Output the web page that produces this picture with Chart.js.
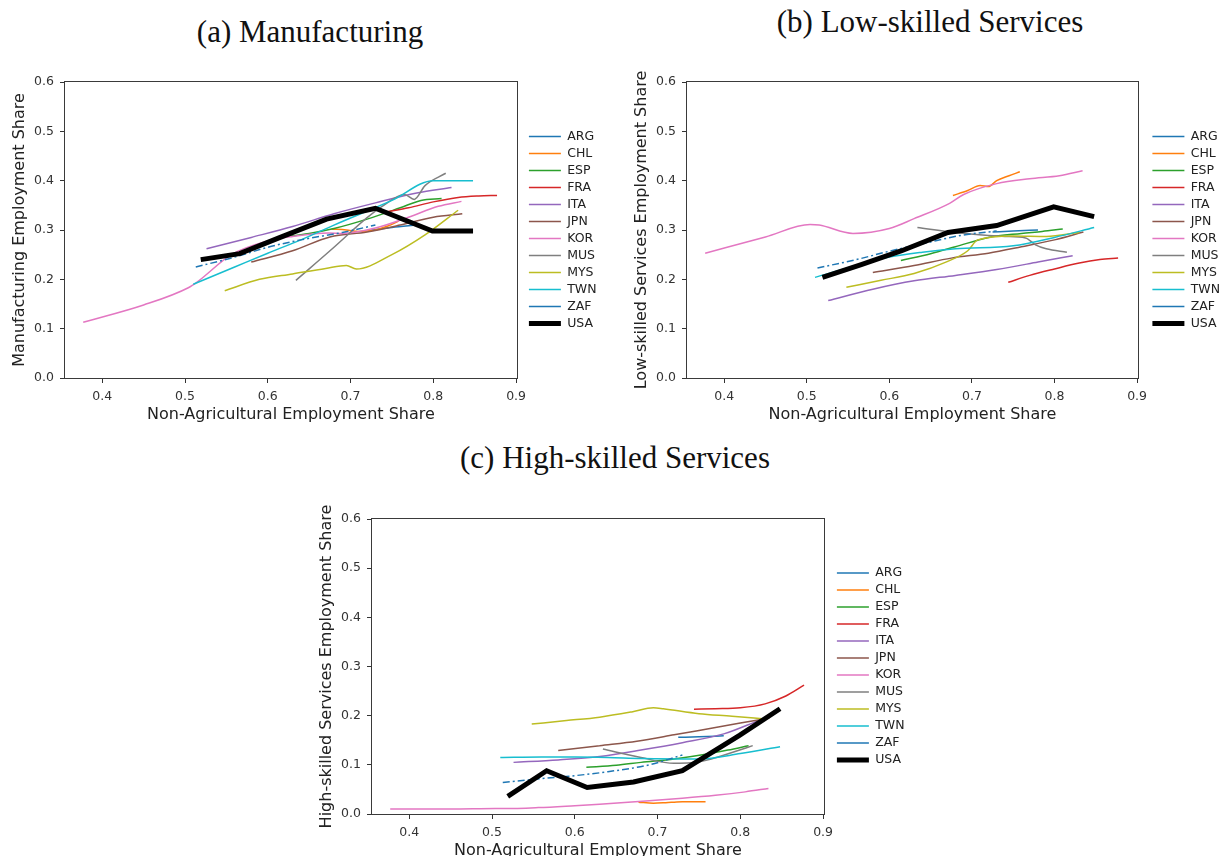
<!DOCTYPE html>
<html>
<head>
<meta charset="utf-8">
<script src="https://cdn.jsdelivr.net/npm/chart.js@4.4.1/dist/chart.umd.min.js"></script>
<style>
  html, body { margin: 0; padding: 0; background: #fff; }
  body { width: 1220px; height: 856px; overflow: hidden; position: relative; }
  canvas { position: absolute; }
  .panel-title {
    position: absolute; width: 500px; text-align: center; white-space: nowrap;
    font-family: "Liberation Serif", "DejaVu Serif", serif; font-size: 31px; line-height: 32px; color: #111;
  }
</style>
</head>
<body>
<div class="panel-title" style="left:60px; top:16px;">(a) Manufacturing</div>
<div class="panel-title" style="left:680px; top:6px;">(b) Low-skilled Services</div>
<div class="panel-title" style="left:365px; top:442px;">(c) High-skilled Services</div>
<canvas id="panelA" width="620" height="380" style="left:0px; top:60px;"></canvas>
<canvas id="panelB" width="598" height="380" style="left:622px; top:60px;"></canvas>
<canvas id="panelC" width="620" height="379" style="left:307px; top:497px;"></canvas>
<script>
// Countries, in legend order
const COUNTRIES = ['ARG', 'CHL', 'ESP', 'FRA', 'ITA', 'JPN', 'KOR', 'MUS', 'MYS', 'TWN', 'ZAF', 'USA'];

// Non-agricultural employment share (x) for each country's path
const xARG = [0.725, 0.75, 0.78];
const xCHL = [0.677, 0.695, 0.71, 0.72, 0.73, 0.745, 0.758];
const xESP = [0.614, 0.65, 0.68, 0.72, 0.76, 0.785, 0.81];
const xFRA = [0.744, 0.77, 0.80, 0.83, 0.855, 0.877];
const xITA = [0.526, 0.58, 0.63, 0.68, 0.73, 0.78, 0.822];
const xJPN = [0.58, 0.63, 0.675, 0.72, 0.76, 0.80, 0.835];
const xKOR = [0.377, 0.45, 0.504, 0.515, 0.556, 0.6, 0.63, 0.673, 0.69, 0.73, 0.77, 0.806, 0.834];
const xMUS = [0.634, 0.68, 0.72, 0.74, 0.765, 0.777, 0.79, 0.815];
const xMYS = [0.548, 0.59, 0.63, 0.67, 0.695, 0.707, 0.75, 0.79, 0.83];
const xTWN = [0.51, 0.56, 0.60, 0.64, 0.68, 0.75, 0.80, 0.848];
const xZAF = [0.513, 0.56, 0.60, 0.64, 0.69, 0.73];
const xUSA = [0.519, 0.566, 0.615, 0.671, 0.73, 0.799, 0.848];

// (a) Manufacturing employment share
const mfgARG = [0.30, 0.305, 0.31];
const mfgCHL = [0.302, 0.30, 0.297, 0.298, 0.30, 0.308, 0.318];
const mfgESP = [0.285, 0.293, 0.303, 0.322, 0.345, 0.36, 0.364];
const mfgFRA = [0.337, 0.345, 0.357, 0.366, 0.369, 0.37];
const mfgITA = [0.262, 0.285, 0.307, 0.333, 0.355, 0.375, 0.386];
const mfgJPN = [0.235, 0.258, 0.286, 0.296, 0.31, 0.326, 0.333];
const mfgKOR = [0.113, 0.148, 0.183, 0.195, 0.25, 0.278, 0.287, 0.294, 0.293, 0.304, 0.326, 0.348, 0.358];
const mfgMUS = [0.198, 0.265, 0.325, 0.35, 0.372, 0.362, 0.39, 0.415];
const mfgMYS = [0.177, 0.20, 0.211, 0.222, 0.228, 0.221, 0.25, 0.29, 0.34];
const mfgTWN = [0.19, 0.225, 0.253, 0.28, 0.31, 0.36, 0.40, 0.40];
const mfgZAF = [0.225, 0.245, 0.265, 0.28, 0.295, 0.31];
const mfgUSA = [0.240, 0.252, 0.285, 0.322, 0.344, 0.298, 0.298];

// (b) Low-skilled services employment share
const lowARG = [0.296, 0.298, 0.30];
const lowCHL = [0.37, 0.38, 0.39, 0.388, 0.40, 0.41, 0.418];
const lowESP = [0.238, 0.252, 0.266, 0.285, 0.293, 0.297, 0.302];
const lowFRA = [0.194, 0.208, 0.221, 0.233, 0.24, 0.243];
const lowITA = [0.157, 0.18, 0.197, 0.208, 0.22, 0.235, 0.248];
const lowJPN = [0.214, 0.228, 0.243, 0.253, 0.266, 0.28, 0.296];
const lowKOR = [0.253, 0.286, 0.311, 0.31, 0.293, 0.303, 0.323, 0.354, 0.372, 0.394, 0.404, 0.41, 0.42];
const lowMUS = [0.305, 0.295, 0.289, 0.287, 0.284, 0.27, 0.262, 0.255];
const lowMYS = [0.184, 0.198, 0.212, 0.236, 0.258, 0.28, 0.288, 0.287, 0.295];
const lowTWN = [0.204, 0.228, 0.245, 0.255, 0.262, 0.268, 0.285, 0.305];
const lowZAF = [0.223, 0.24, 0.257, 0.272, 0.29, 0.298];
const lowUSA = [0.204, 0.230, 0.258, 0.295, 0.309, 0.347, 0.327];

// (c) High-skilled services employment share
const highARG = [0.156, 0.157, 0.159];
const highCHL = [0.024, 0.022, 0.023, 0.024, 0.025, 0.025, 0.025];
const highESP = [0.095, 0.099, 0.105, 0.112, 0.122, 0.13, 0.139];
const highFRA = [0.213, 0.214, 0.216, 0.224, 0.24, 0.262];
const highITA = [0.105, 0.11, 0.117, 0.13, 0.145, 0.163, 0.19];
const highJPN = [0.129, 0.139, 0.148, 0.161, 0.173, 0.185, 0.195];
const highKOR = [0.010, 0.010, 0.011, 0.011, 0.013, 0.017, 0.02, 0.025, 0.027, 0.032, 0.038, 0.045, 0.052];
const highMUS = [0.132, 0.115, 0.103, 0.104, 0.112, 0.118, 0.125, 0.139];
const highMYS = [0.183, 0.19, 0.197, 0.208, 0.216, 0.214, 0.204, 0.199, 0.193];
const highTWN = [0.115, 0.116, 0.116, 0.115, 0.113, 0.112, 0.123, 0.137];
const highZAF = [0.064, 0.072, 0.078, 0.086, 0.10, 0.12];
const highUSA = [0.036, 0.088, 0.054, 0.065, 0.088, 0.16, 0.214];

// Axis ticks and ranges
const X_TICKS = [0.4, 0.5, 0.6, 0.7, 0.8, 0.9];
const Y_TICKS = [0.0, 0.1, 0.2, 0.3, 0.4, 0.5, 0.6];
const X_RANGE = [0.355, 0.901];
const Y_RANGE = [0.0, 0.6];

const X_TITLE = 'Non-Agricultural Employment Share';
const Y_TITLES = ['Manufacturing Employment Share', 'Low-skilled Services Employment Share', 'High-skilled Services Employment Share'];

const XS = [xARG, xCHL, xESP, xFRA, xITA, xJPN, xKOR, xMUS, xMYS, xTWN, xZAF, xUSA];
const PANEL_SERIES = [
  [mfgARG, mfgCHL, mfgESP, mfgFRA, mfgITA, mfgJPN, mfgKOR, mfgMUS, mfgMYS, mfgTWN, mfgZAF, mfgUSA],
  [lowARG, lowCHL, lowESP, lowFRA, lowITA, lowJPN, lowKOR, lowMUS, lowMYS, lowTWN, lowZAF, lowUSA],
  [highARG, highCHL, highESP, highFRA, highITA, highJPN, highKOR, highMUS, highMYS, highTWN, highZAF, highUSA]
];

// Styling
const LINE_COLORS = ['#1f77b4', '#ff7f0e', '#2ca02c', '#d62728', '#9467bd', '#8c564b',
                     '#e377c2', '#7f7f7f', '#bcbd22', '#17becf', '#1f77b4', '#000000'];
const FONT = '"DejaVu Sans", "Liberation Sans", sans-serif';
const INK = '#333333';

// Canvas layout for the three panels: right edge of the plot (canvas px) and gap to the legend
const PANEL_LAYOUT = [
  { id: 'panelA', plotRight: 517, gap: 7.5 },
  { id: 'panelB', plotRight: 516, gap: 10 },
  { id: 'panelC', plotRight: 517, gap: 8.5 }
];

// Box round the plotting area
const framePlugin = {
  id: 'frame',
  afterDatasetsDraw(chart) {
    const { ctx, chartArea: a } = chart;
    ctx.save();
    ctx.strokeStyle = '#3a3a3a';
    ctx.lineWidth = 1;
    ctx.strokeRect(Math.round(a.left) - 0.5, Math.round(a.top) - 0.5,
                   Math.round(a.right - a.left) + 1, Math.round(a.bottom - a.top) + 1);
    ctx.restore();
  }
};

// Vertical axis title, centred on the plotting area (may run past it)
const yLabelPlugin = {
  id: 'yLabel',
  afterDraw(chart, args, opts) {
    const { ctx, chartArea: a } = chart;
    ctx.save();
    ctx.translate(opts.x, (a.top + a.bottom) / 2);
    ctx.rotate(-Math.PI / 2);
    ctx.font = '16px ' + FONT;
    ctx.fillStyle = '#222';
    ctx.textAlign = 'center';
    ctx.textBaseline = 'middle';
    ctx.fillText(opts.text, 0, 0);
    ctx.restore();
  }
};

function buildDatasets(series) {
  return COUNTRIES.map((name, i) => {
    const isUSA = name === 'USA';
    return {
      label: name,
      data: XS[i].map((x, k) => ({ x: x, y: series[i][k] })),
      borderColor: LINE_COLORS[i],
      backgroundColor: LINE_COLORS[i],
      borderWidth: isUSA ? 5 : 1.5,
      borderDash: name === 'ZAF' ? [7, 3, 2, 3] : [],
      pointRadius: 0,
      pointHoverRadius: 0,
      fill: false,
      tension: 0,
      cubicInterpolationMode: isUSA ? 'default' : 'monotone',
      order: COUNTRIES.length - i
    };
  });
}

function tickAxis(extra) {
  return Object.assign({
    type: 'linear',
    border: { display: false },
    grid: { display: true, drawOnChartArea: false, drawTicks: true, tickLength: 5, tickColor: INK, lineWidth: 1 },
    ticks: { color: INK, font: { family: FONT, size: 12.5 }, padding: 6, callback: v => Number(v).toFixed(1) }
  }, extra);
}

function makePanel(p, idx) {
  const canvas = document.getElementById(p.id);
  const padding = { top: 22, right: canvas.width - p.plotRight - p.gap - 82, bottom: 12, left: 0 };
  const chart = new Chart(canvas.getContext('2d'), {
    type: 'line',
    data: { datasets: buildDatasets(PANEL_SERIES[idx]) },
    options: {
      responsive: false,
      animation: false,
      devicePixelRatio: 1,
      events: [],
      layout: { padding: padding },
      plugins: {
        legend: {
          position: 'right', align: 'center', fullSize: false,
          labels: {
            usePointStyle: true, pointStyle: 'line', pointStyleWidth: 32,
            padding: 4.5, color: '#222', font: { family: FONT, size: 12.5 },
            sort: (a, b) => a.datasetIndex - b.datasetIndex
          }
        },
        tooltip: { enabled: false },
        yLabel: { text: Y_TITLES[idx], x: 19.5 }
      },
      scales: {
        x: tickAxis({
          position: 'bottom', min: X_RANGE[0], max: X_RANGE[1],
          afterBuildTicks: s => { s.ticks = X_TICKS.map(v => ({ value: v })); },
          afterFit: s => { s.height = 50; },
          title: { display: true, text: X_TITLE, color: '#222', font: { family: FONT, size: 16 }, padding: { top: 0, bottom: 4 } }
        }),
        y: tickAxis({
          position: 'left', min: Y_RANGE[0], max: Y_RANGE[1],
          afterBuildTicks: s => { s.ticks = Y_TICKS.map(v => ({ value: v })); },
          afterFit: s => { s.width = 65; }
        }),
        gap: {
          type: 'linear', axis: 'y', position: 'right', display: true,
          ticks: { display: false }, grid: { display: false }, border: { display: false },
          afterFit: s => { s.width = p.gap; }
        }
      }
    },
    plugins: [framePlugin, yLabelPlugin]
  });
  // settle the plot's right edge where the layout wants it, whatever the legend's measured width
  const dx = chart.chartArea.right - p.plotRight;
  if (Math.abs(dx) > 0.25) {
    padding.right += dx;
    chart.update();
  }
  return chart;
}

PANEL_LAYOUT.forEach((p, i) => makePanel(p, i));
</script>
</body>
</html>
